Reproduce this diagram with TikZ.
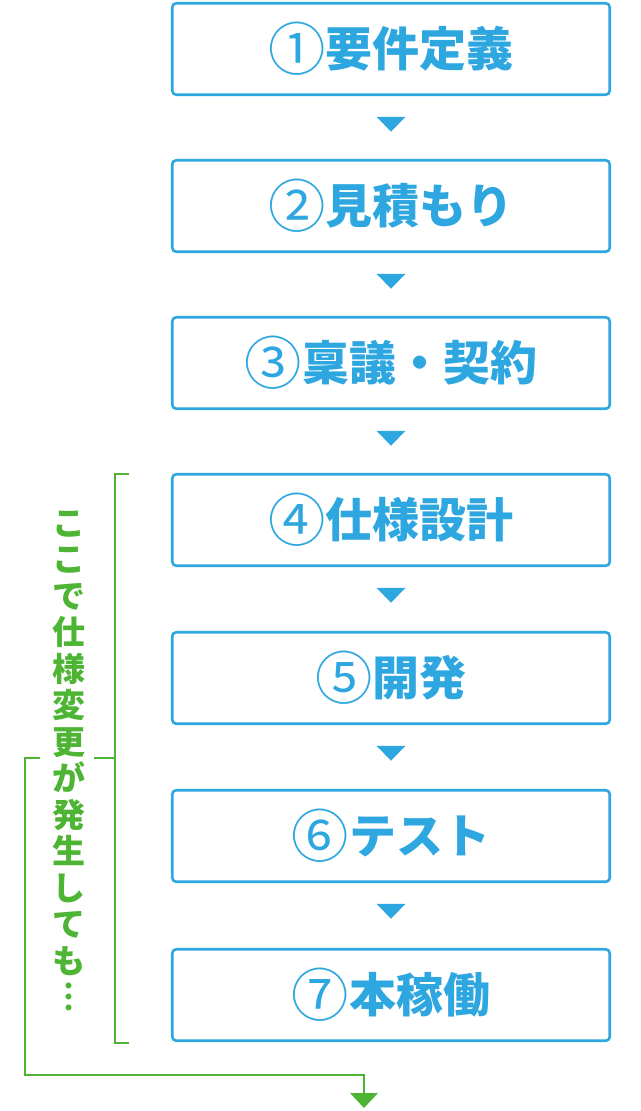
\documentclass[tikz,border=0pt]{standalone}
\usepackage{fontspec}
\newfontfamily\jp{Noto Sans CJK JP}
\usetikzlibrary{calc}
\definecolor{cblue}{HTML}{2EA7E0}
\definecolor{cgreen}{HTML}{4DB533}
\newcommand\cnum[1]{\raisebox{-0.084em}{\scalebox{1.22}{\mdseries #1}}}
\begin{document}
\begin{tikzpicture}[x=1pt,y=-1pt,
  stepbox/.style={draw=cblue, line width=2.6pt, rounded corners=4pt,
    minimum width=437.5pt, minimum height=91.5pt, inner sep=0pt,
    text=cblue, font=\jp\bfseries\fontsize{47}{47}\selectfont},
  tri/.style={fill=cblue},
  gline/.style={draw=cgreen, line width=2pt},
  gtext/.style={text=cgreen, align=center, inner sep=0pt,
    font=\jp\bfseries\fontsize{33}{36.5}\selectfont}]
\useasboundingbox (0,0) rectangle (640,1111);
\node[stepbox] (b1) at (391,49)  {\cnum{①}要件定義};
\node[stepbox] (b2) at (391,206) {\cnum{②}見積もり};
\node[stepbox] (b3) at (391,363) {\cnum{③}稟議・契約};
\node[stepbox] (b4) at (391,520) {\cnum{④}仕様設計};
\node[stepbox] (b5) at (391,678) {\cnum{⑤}開発};
\node[stepbox] (b6) at (391,836) {\cnum{⑥}テスト};
\node[stepbox] (b7) at (391,995) {\cnum{⑦}本稼働};
\foreach \a in {1,...,6}{
  \fill[tri] ($(b\a.south)+(-14.5,20.7)$) -- ++(29,0) -- ++(-14.5,15) -- cycle;
}
% bracket
\coordinate (brTop) at (129,474);
\coordinate (brBot) at (129,1043);
\coordinate (brMid) at (94,758);
\draw[gline] (brTop) -- (115,474) -- (115,1043) -- (brBot);
\draw[gline] (brMid) -- (115,758);
\coordinate (loopStart) at (40,758);
\coordinate (loopEnd) at (364,1094);
\draw[gline] (loopStart) -- (25,758) -- (25,1075) -- (364,1075) -- (loopEnd);
\fill[cgreen] (350,1093) -- (378,1093) -- (364,1108) -- cycle;
\node[gtext] (note) at (69,761) {こ\\こ\\で\\仕\\様\\変\\更\\が\\発\\生\\し\\て\\も\\︙};
\end{tikzpicture}
\end{document}
